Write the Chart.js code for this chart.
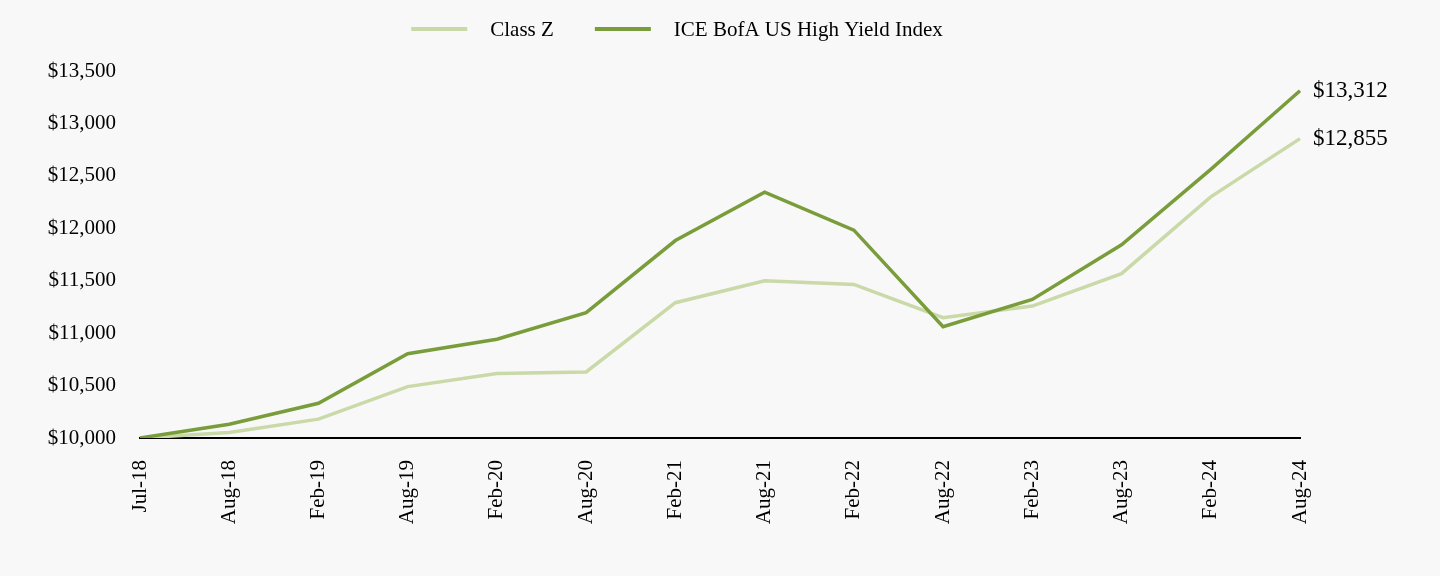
<!DOCTYPE html>
<html>
<head>
<meta charset="utf-8">
<script src="https://cdn.jsdelivr.net/npm/chart.js@4.4.1/dist/chart.umd.min.js"></script>
<style>
  html, body { margin: 0; padding: 0; background: #f8f8f8; }
  #wrap { width: 1440px; height: 576px; }
</style>
</head>
<body>
<div id="wrap"><canvas id="growthChart" width="1440" height="576"></canvas></div>
<script>
// data
var labelBulan = ['Jul-18', 'Aug-18', 'Feb-19', 'Aug-19', 'Feb-20', 'Aug-20', 'Feb-21',
                  'Aug-21', 'Feb-22', 'Aug-22', 'Feb-23', 'Aug-23', 'Feb-24', 'Aug-24'];
var nilaiClassZ = [10000, 10052, 10180, 10490, 10616, 10630, 11290,
                   11500, 11465, 11148, 11258, 11567, 12300, 12855];
var nilaiIndex  = [10000, 10131, 10331, 10804, 10942, 11196, 11883,
                   12345, 11982, 11062, 11322, 11843, 12562, 13312];
var namaSeri = ['Class Z', 'ICE BofA US High Yield Index'];
var warnaSeri = ['#cad9a8', '#7a9d3b'];

var hurufSerif = '"Liberation Serif", "Times New Roman", serif';

function formatDolar(v) {
    return '$' + Math.round(v).toLocaleString('en-US');
}

// plugin untuk label nilai akhir di ujung garis
var labelUjung = {
    id: 'labelUjung',
    afterDatasetsDraw: function (chart) {
        var ctx = chart.ctx;
        ctx.save();
        ctx.font = '23px ' + hurufSerif;
        ctx.fillStyle = '#000';
        ctx.textBaseline = 'middle';
        ctx.textAlign = 'left';
        chart.data.datasets.forEach(function (ds, i) {
            var meta = chart.getDatasetMeta(i);
            var titik = meta.data[meta.data.length - 1];
            ctx.fillText(formatDolar(ds.data[ds.data.length - 1]), titik.x + 13, titik.y);
        });
        ctx.restore();
    }
};

// plugin legenda sendiri supaya jarak garis & teks mirip aslinya
var legendaAtas = {
    id: 'legendaAtas',
    afterDraw: function (chart) {
        var ctx = chart.ctx;
        var panjangGaris = 56, jarakTeks = 23, jarakItem = 41, yTengah = 29;
        ctx.save();
        ctx.font = '21px ' + hurufSerif;
        var lebar = [];
        var total = 0;
        namaSeri.forEach(function (n, i) {
            lebar[i] = ctx.measureText(n).width;
            total += panjangGaris + jarakTeks + lebar[i];
        });
        total += jarakItem * (namaSeri.length - 1);
        var x = 677 - total / 2;
        ctx.textBaseline = 'middle';
        ctx.fillStyle = '#000';
        namaSeri.forEach(function (n, i) {
            ctx.strokeStyle = warnaSeri[i];
            ctx.lineWidth = 4;
            ctx.beginPath();
            ctx.moveTo(x, yTengah);
            ctx.lineTo(x + panjangGaris, yTengah);
            ctx.stroke();
            x += panjangGaris + jarakTeks;
            ctx.fillText(n, x, yTengah + 1);
            x += lebar[i] + jarakItem;
        });
        ctx.restore();
    }
};

var ctx = document.getElementById('growthChart').getContext('2d');
var myChart = new Chart(ctx, {
    type: 'line',
    data: {
        labels: labelBulan,
        datasets: [{
            label: namaSeri[0],
            data: nilaiClassZ,
            borderColor: warnaSeri[0],
            backgroundColor: warnaSeri[0],
            borderWidth: 3.5,
            pointRadius: 0,
            tension: 0,
            order: 1
        }, {
            label: namaSeri[1],
            data: nilaiIndex,
            borderColor: warnaSeri[1],
            backgroundColor: warnaSeri[1],
            borderWidth: 3.5,
            pointRadius: 0,
            tension: 0,
            order: 0
        }]
    },
    options: {
        responsive: false,
        animation: false,
        layout: { padding: { top: 71, right: 140, bottom: 0, left: 0 } },
        plugins: {
            legend: { display: false },
            tooltip: { enabled: false }
        },
        scales: {
            x: {
                grid: { display: false },
                border: { display: true, color: '#000', width: 2 },
                ticks: {
                    color: '#000',
                    font: { family: hurufSerif, size: 21 },
                    minRotation: 90,
                    maxRotation: 90,
                    padding: 14
                },
                afterFit: function (scale) { scale.height = 138; }
            },
            y: {
                min: 10000,
                max: 13500,
                grid: { display: false },
                border: { display: false },
                ticks: {
                    stepSize: 500,
                    color: '#000',
                    padding: 16,
                    font: { family: hurufSerif, size: 21 },
                    callback: function (v) { return formatDolar(v); }
                },
                afterFit: function (scale) { scale.width = 140; }
            }
        }
    },
    plugins: [labelUjung, legendaAtas]
});
</script>
</body>
</html>
